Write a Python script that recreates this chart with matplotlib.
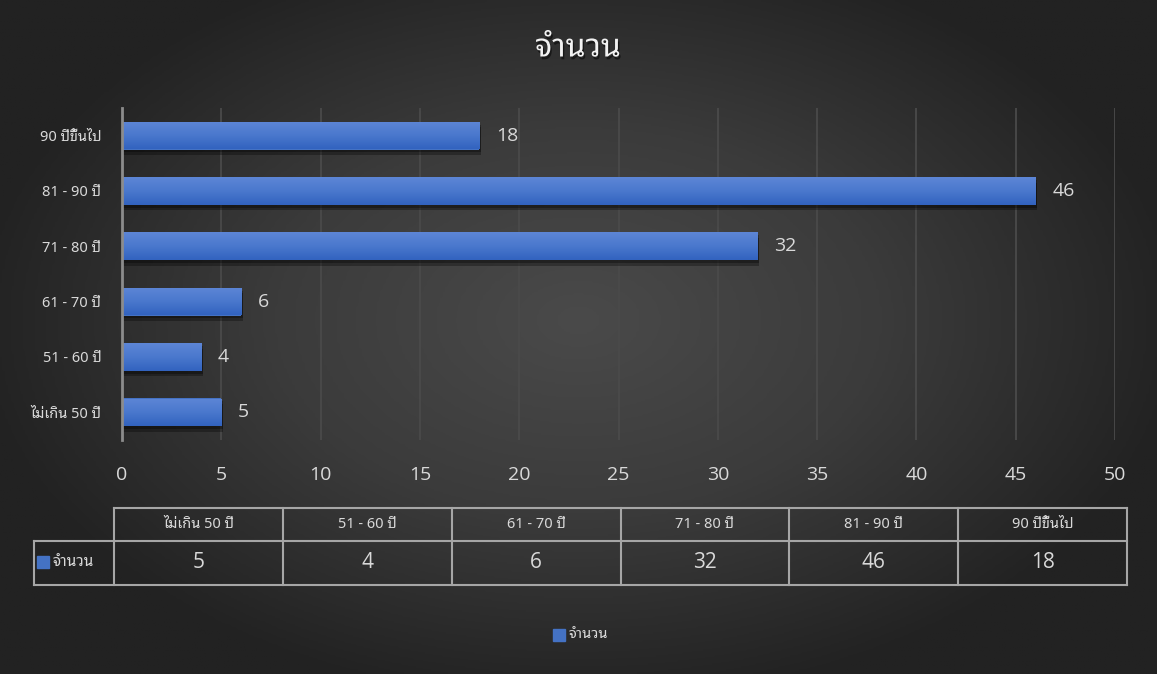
import numpy as np
import matplotlib
matplotlib.use("Agg")
import matplotlib.pyplot as plt
import matplotlib.patheffects as pe
from matplotlib.colors import LinearSegmentedColormap

# data (bottom -> top in the chart)
categories = ["ไม่เกิน 50 ปี", "51 - 60 ปี", "61 - 70 ปี", "71 - 80 ปี", "81 - 90 ปี", "90 ปีขึ้นไป"]
counts = [5, 4, 6, 32, 46, 18]
series_name = "จำนวน"
title = "จำนวน"
x_ticks = [0, 5, 10, 15, 20, 25, 30, 35, 40, 45, 50]

THAI = ["Noto Sans Thai Looped", "Noto Sans Thai", "DejaVu Sans"]
NUM = ["Open Sans", "Noto Sans", "DejaVu Sans"]
plt.rcParams["font.family"] = THAI

W, H = 1157, 674
BAR_COLOR = "#4472C4"
TEXT = "#d9d9d9"
GRID = "#4a4a4a"
TABLE_LINE = "#a6a6a6"

fig = plt.figure(figsize=(W / 100, H / 100), dpi=100)

# ------------------------------------------------------------------
# background: dark radial gradient
# ------------------------------------------------------------------
bg = fig.add_axes([0, 0, 1, 1], zorder=-10)
gx, gy = np.meshgrid(np.linspace(-1, 1, 400), np.linspace(-1, 1, 240))
r = np.clip(np.sqrt((gx / 1.05) ** 2 + ((gy + 0.05) / 1.15) ** 2), 0, 1)
bg_cmap = LinearSegmentedColormap.from_list("bg", ["#4a4a4a", "#3b3b3b", "#222222"])
bg.imshow(r, cmap=bg_cmap, aspect="auto", extent=[0, 1, 0, 1], vmin=0, vmax=1)
bg.set_axis_off()

# ------------------------------------------------------------------
# bar chart
# ------------------------------------------------------------------
ax = fig.add_axes([122 / W, 1 - 440 / H, (1115 - 122) / W, (440 - 108) / H])
ax.set_facecolor("none")
y = np.arange(len(categories))
bars = ax.barh(y, counts, height=0.5, color=BAR_COLOR, zorder=3)

grad = LinearSegmentedColormap.from_list("bar", ["#3263bf", "#4a78cd", "#5d86d6"])
for b in bars:
    b.set_path_effects([pe.SimplePatchShadow(offset=(1, -4), shadow_rgbFace="black", alpha=0.3),
                        pe.SimplePatchShadow(offset=(1, -2), shadow_rgbFace="black", alpha=0.3),
                        pe.Normal()])
    x0, y0 = b.get_x(), b.get_y()
    im = ax.imshow(np.linspace(0, 1, 64).reshape(-1, 1), cmap=grad, aspect="auto",
                   extent=[x0, x0 + b.get_width(), y0, y0 + b.get_height()],
                   origin="lower", zorder=4)
    im.set_clip_path(b)

for b, v in zip(bars, counts):
    ax.annotate(str(v), (b.get_width(), b.get_y() + b.get_height() / 2),
                xytext=(12, 0), textcoords="offset points", va="center", ha="left",
                color=TEXT, fontsize=14, family=NUM, zorder=5)

ax.set_xlim(0, 50)
ax.set_ylim(-0.5, len(categories) - 0.5)
ax.set_xticks(x_ticks)
ax.set_xticklabels([str(t) for t in x_ticks], family=NUM, fontsize=14, color=TEXT)
ax.set_yticks(y)
ax.set_yticklabels(categories, fontsize=10.5, color=TEXT)
ax.tick_params(axis="x", length=0, pad=19)
ax.tick_params(axis="y", length=0, pad=15)
ax.grid(axis="x", color=GRID, linewidth=1.3, zorder=0)
for side in ["top", "right", "bottom"]:
    ax.spines[side].set_visible(False)
ax.spines["left"].set_color("#8c8c8c")
ax.spines["left"].set_linewidth(2)
ax.spines["left"].set_zorder(6)

fig.text(578 / W, 1 - 48 / H, title, ha="center", va="center", fontsize=23,
         fontweight="bold", color="#f2f2f2",
         path_effects=[pe.withSimplePatchShadow(offset=(1, -2), shadow_rgbFace="black", alpha=0.5)])

# ------------------------------------------------------------------
# data table under the chart (pixel coordinates)
# ------------------------------------------------------------------
tb = fig.add_axes([0, 0, 1, 1], zorder=5)
tb.set_xlim(0, W)
tb.set_ylim(H, 0)
tb.set_axis_off()

col_left, col_right = 114, 1127
key_left = 34
row_top, row_mid, row_bot = 508, 541, 585
edges = np.linspace(col_left, col_right, len(categories) + 1)

lk = dict(color=TABLE_LINE, linewidth=1.5)
tb.plot([col_left, col_right], [row_top, row_top], **lk)
tb.plot([key_left, col_right], [row_mid, row_mid], **lk)
tb.plot([key_left, col_right], [row_bot, row_bot], **lk)
tb.plot([key_left, key_left], [row_mid, row_bot], **lk)
for e in edges:
    tb.plot([e, e], [row_top, row_bot], **lk)

for i, (cat, v) in enumerate(zip(categories, counts)):
    cx = (edges[i] + edges[i + 1]) / 2
    tb.text(cx, (row_top + row_mid) / 2, cat, ha="center", va="center",
            fontsize=10.5, color=TEXT)
    tb.text(cx, (row_mid + row_bot) / 2, str(v), ha="center", va="center",
            fontsize=15, family=NUM, color=TEXT)

tb.add_patch(plt.Rectangle((37, 556), 12, 12, color=BAR_COLOR))
tb.text(53, (row_mid + row_bot) / 2, series_name, ha="left", va="center",
        fontsize=11, color=TEXT)

# legend
tb.add_patch(plt.Rectangle((553, 629), 12, 12, color=BAR_COLOR))
tb.text(569, 635, series_name, ha="left", va="center", fontsize=10.5, color=TEXT)

fig.savefig("out.png", dpi=100)
